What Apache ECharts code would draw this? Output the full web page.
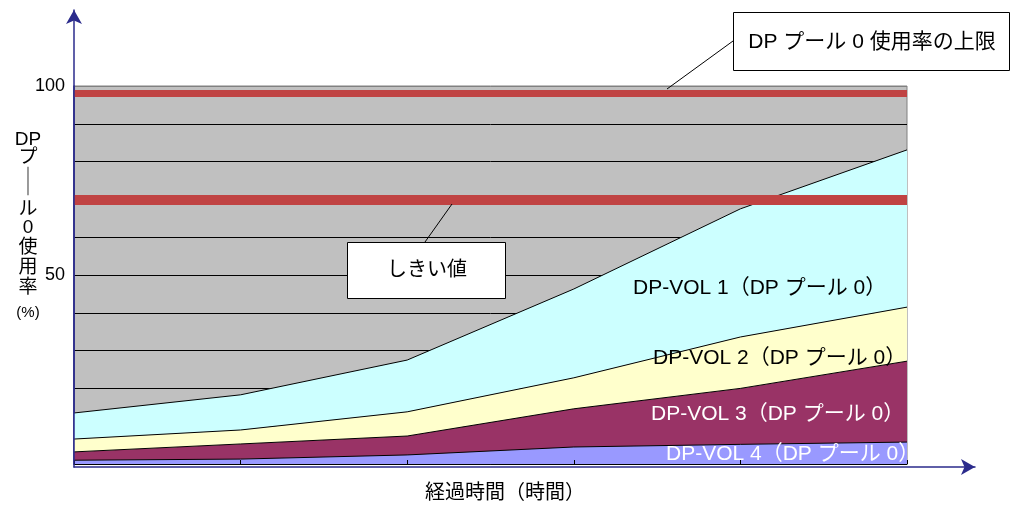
<!DOCTYPE html>
<html><head><meta charset="utf-8">
<script src="https://cdn.jsdelivr.net/npm/echarts@6/dist/echarts.min.js"></script>
<style>html,body{margin:0;padding:0;background:#fff}#c{width:1011px;height:506px}</style>
</head><body><div id="c"></div>
<script>
const timePoints = ['0', '1', '2', '3', '4', '5'];
const vol1 = [6.9, 9.3, 13.7, 23.5, 33.9, 41.6];
const vol2 = [3.4, 3.7, 6.4, 8.2, 13.6, 14.3];
const vol3 = [2.2, 4.0, 5.0, 10.1, 14.8, 21.4];
const vol4 = [1.0, 1.3, 2.4, 4.5, 5.2, 5.8];
const upperLimit = [98];
const thresholdLevel = [70];
const yTickLabels = [50, 100];
const seriesNames = ['DP-VOL 1（DP プール 0）', 'DP-VOL 2（DP プール 0）', 'DP-VOL 3（DP プール 0）', 'DP-VOL 4（DP プール 0）'];
const yAxisNameChars = ['DP', 'プ', '｜', 'ル', '0', '使', '用', '率', '(%)'];
const xAxisName = '経過時間（時間）';
const limitLabel = 'DP プール 0 使用率の上限';
const thresholdLabel = 'しきい値';

const FONT = "'Liberation Sans', 'Noto Sans CJK JP', sans-serif";
const NAVY = '#2B2B8C';
const chart = echarts.init(document.getElementById('c'));

const ySplitColors = [];
for (let i = 0; i <= 10; i++) ySplitColors.push(i === 10 ? '#808080' : '#000000');

function area(name, data, color) {
  return {
    name: name, type: 'line', stack: 'total', data: data,
    xAxisIndex: 0, yAxisIndex: 0, symbol: 'none', smooth: false,
    lineStyle: { color: '#000', width: 1 },
    areaStyle: { color: color, opacity: 1 }, z: 2
  };
}

const yNameY = [140, 158, 184, 210, 228, 248, 268, 288, 313];
const graphics = [];
yAxisNameChars.forEach((ch, i) => {
  const g = {
    type: 'text', x: 28, y: yNameY[i],
    style: { text: ch, font: (ch === '(%)' ? '15px ' : '19px ') + FONT, fill: '#000', align: 'center', verticalAlign: 'middle' }
  };
  if (ch === '｜') { g.scaleY = 1.5; g.originX = 0; g.originY = 0; }
  graphics.push(g);
});
graphics.push({ type: 'text', x: 505, y: 493, style: { text: xAxisName, font: '20px ' + FONT, fill: '#000', align: 'center', verticalAlign: 'middle' } });
// callouts
graphics.push({ type: 'line', shape: { x1: 733, y1: 41, x2: 667, y2: 89 }, style: { stroke: '#000', lineWidth: 1 }, z: 20 });
graphics.push({ type: 'rect', shape: { x: 733.5, y: 12.5, width: 276, height: 58 }, style: { fill: '#fff', stroke: '#000', lineWidth: 1 }, z: 20 });
graphics.push({ type: 'text', x: 872, y: 42, style: { text: limitLabel, font: '21px ' + FONT, fill: '#000', align: 'center', verticalAlign: 'middle' }, z: 21 });
graphics.push({ type: 'line', shape: { x1: 452, y1: 204, x2: 425, y2: 242 }, style: { stroke: '#000', lineWidth: 1 }, z: 20 });
graphics.push({ type: 'rect', shape: { x: 347.5, y: 242.5, width: 158, height: 56 }, style: { fill: '#fff', stroke: '#000', lineWidth: 1 }, z: 20 });
graphics.push({ type: 'text', x: 427, y: 270, style: { text: thresholdLabel, font: '20px ' + FONT, fill: '#000', align: 'center', verticalAlign: 'middle' }, z: 21 });
// series labels
const labelPos = [[633, 288, '#000'], [653, 358, '#000'], [651, 414, '#fff'], [666, 454, '#fff']];
seriesNames.forEach((n, i) => {
  graphics.push({ type: 'text', x: labelPos[i][0], y: labelPos[i][1], style: { text: n, font: '21px ' + FONT, fill: labelPos[i][2], align: 'left', verticalAlign: 'middle' }, z: 15 });
});

chart.setOption({
  animation: false,
  backgroundColor: '#fff',
  grid: [
    { left: 74, right: 104, top: 86, bottom: 42, show: true, backgroundColor: '#C0C0C0', borderColor: '#808080', borderWidth: 1 },
    { left: 74, right: 36, top: 10, bottom: 39, show: false }
  ],
  xAxis: [
    { type: 'category', gridIndex: 0, data: timePoints, boundaryGap: false,
      axisLine: { show: true, lineStyle: { color: '#000', width: 1 } },
      axisTick: { show: true, inside: true, length: 4, lineStyle: { color: '#000' } },
      axisLabel: { show: false }, splitLine: { show: false }, z: 3 },
    { type: 'value', gridIndex: 1, min: 0, max: 1,
      axisLine: { show: true, onZero: false, symbol: ['none', 'arrow'], symbolSize: [12, 14], lineStyle: { color: NAVY, width: 1.5 } },
      axisTick: { show: false }, axisLabel: { show: false }, splitLine: { show: false }, z: 10 }
  ],
  yAxis: [
    { type: 'value', gridIndex: 0, min: 0, max: 100, interval: 10,
      axisLine: { show: true, lineStyle: { color: NAVY, width: 1.5 } },
      axisTick: { show: false },
      axisLabel: { show: true, margin: 9, color: '#000', fontSize: 18, fontFamily: FONT,
        formatter: v => (yTickLabels.indexOf(v) >= 0 ? String(v) : '') },
      splitLine: { show: true, lineStyle: { color: ySplitColors, width: 1 } }, z: 0 },
    { type: 'value', gridIndex: 1, min: 0, max: 1,
      axisLine: { show: true, onZero: false, symbol: ['none', 'arrow'], symbolSize: [12, 14], lineStyle: { color: NAVY, width: 1.5 } },
      axisTick: { show: false }, axisLabel: { show: false }, splitLine: { show: false }, z: 10 }
  ],
  series: [
    area(seriesNames[3], vol4, '#9999FF'),
    area(seriesNames[2], vol3, '#993366'),
    area(seriesNames[1], vol2, '#FFFFCC'),
    area(seriesNames[0], vol1, '#CCFFFF'),
    { type: 'line', xAxisIndex: 0, yAxisIndex: 0, data: [], silent: true, z: 5,
      markLine: {
        silent: true, symbol: ['none', 'none'], label: { show: false }, z: 5,
        data: [
          { yAxis: upperLimit[0], lineStyle: { color: '#C04343', width: 7, type: 'solid', cap: 'butt' } },
          { yAxis: thresholdLevel[0], lineStyle: { color: '#C04343', width: 10, type: 'solid', cap: 'butt' } }
        ]
      }
    },
    { type: 'line', xAxisIndex: 1, yAxisIndex: 1, data: [], silent: true }
  ],
  graphic: graphics
});
</script></body></html>
